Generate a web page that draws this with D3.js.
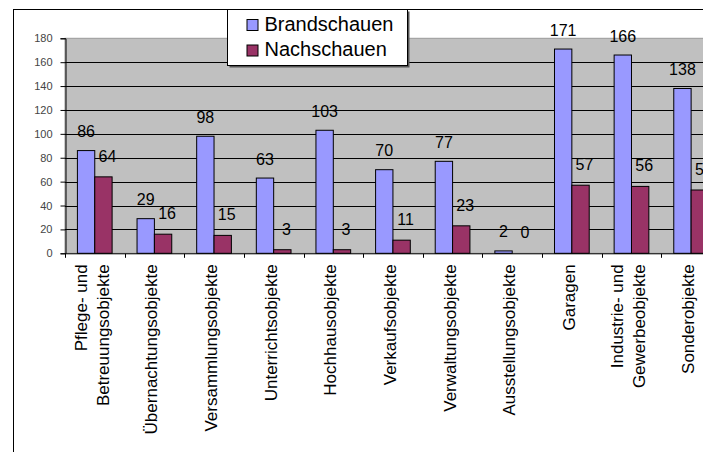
<!DOCTYPE html>
<html>
<head>
<meta charset="utf-8">
<script src="https://cdn.jsdelivr.net/npm/d3@7"></script>
<style>
  html, body { margin: 0; padding: 0; background: #fff; }
  svg { display: block; font-family: "Liberation Sans", Arial, sans-serif; }
</style>
</head>
<body>
<svg id="chart" width="703" height="452"></svg>
<script>
// Categories (line breaks marked with \n)
const categories = [
  "Pflege- und\nBetreuungsobjekte",
  "Übernachtungsobjekte",
  "Versammlungsobjekte",
  "Unterrichtsobjekte",
  "Hochhausobjekte",
  "Verkaufsobjekte",
  "Verwaltungsobjekte",
  "Ausstellungsobjekte",
  "Garagen",
  "Industrie- und\nGewerbeobjekte",
  "Sonderobjekte"
];
const seriesNames = ["Brandschauen", "Nachschauen"];
const brandschauen = [86, 29, 98, 63, 103, 70, 77, 2, 171, 166, 138];
const nachschauen  = [64, 16, 15, 3, 3, 11, 23, 0, 57, 56, 53];
const yTicks = [0, 20, 40, 60, 80, 100, 120, 140, 160, 180];

const colors = { Brandschauen: "#9999FF", Nachschauen: "#993366" };
const values = { Brandschauen: brandschauen, Nachschauen: nachschauen };

const svg = d3.select("#chart");

// Outer chart frame (extends beyond the visible window on right and bottom)
svg.append("rect")
  .attr("x", 13.5).attr("y", 9.5)
  .attr("width", 760).attr("height", 500)
  .attr("fill", "#fff").attr("stroke", "#000").attr("stroke-width", 1);

const plot = { left: 65, top: 38.3, right: 721, bottom: 253.3 };

const x0 = d3.scaleBand().domain(categories).range([plot.left, plot.right]).padding(0);
const bw = x0.bandwidth();
const x1 = d3.scaleBand().domain(seriesNames).range([bw * 0.208, bw * 0.79]).padding(0);
const y = d3.scaleLinear().domain([0, 180]).range([plot.bottom, plot.top]);

// Plot area background
svg.append("rect")
  .attr("x", plot.left).attr("y", plot.top)
  .attr("width", plot.right - plot.left).attr("height", plot.bottom - plot.top)
  .attr("fill", "#C0C0C0").attr("stroke", "#9a9a9a").attr("stroke-width", 1);

// Horizontal gridlines
svg.append("g")
  .selectAll("line")
  .data(yTicks.filter(d => d > 0 && d < 180))
  .join("line")
  .attr("x1", plot.left).attr("x2", plot.right)
  .attr("y1", d => Math.round(y(d)) + 0.5).attr("y2", d => Math.round(y(d)) + 0.5)
  .attr("stroke", "#000").attr("stroke-width", 1);

// Bars
const groups = svg.append("g")
  .selectAll("g")
  .data(categories)
  .join("g")
  .attr("transform", d => `translate(${x0(d)},0)`);

groups.selectAll("rect")
  .data((c, i) => seriesNames.map(s => ({ s, v: values[s][i] })))
  .join("rect")
  .attr("x", d => x1(d.s))
  .attr("y", d => y(d.v))
  .attr("width", x1.bandwidth())
  .attr("height", d => y(0) - y(d.v))
  .attr("fill", d => colors[d.s])
  .attr("stroke", "#000").attr("stroke-width", 1);

// Value labels
groups.selectAll("text")
  .data((c, i) => seriesNames.map(s => ({ s, v: values[s][i] })))
  .join("text")
  .attr("x", d => x1(d.s) + x1.bandwidth() / 2 + (d.s === "Nachschauen" ? 4 : 0))
  .attr("y", d => y(d.v) - (d.s === "Nachschauen" ? 15 : 13.5))
  .attr("text-anchor", "middle")
  .attr("font-size", "16px")
  .attr("fill", "#000")
  .text(d => d.v);

// Y axis
const yAxis = d3.axisLeft(y).tickValues(yTicks).tickSize(5).tickPadding(8);
const gy = svg.append("g")
  .attr("transform", `translate(${plot.left + 0.5},0)`)
  .call(yAxis);
gy.select(".domain").attr("stroke", "#000");
gy.selectAll(".tick line").attr("stroke", "#000");
gy.selectAll(".tick text")
  .attr("font-size", "11px")
  .attr("font-family", "Liberation Sans, Arial, sans-serif")
  .attr("fill", "#444");

// X axis with ticks at category boundaries
const gx = svg.append("g")
  .attr("transform", `translate(0,${plot.bottom + 0.5})`);
gx.append("line")
  .attr("x1", plot.left).attr("x2", plot.right)
  .attr("stroke", "#000");
gx.selectAll("line.tk")
  .data(categories)
  .join("line")
  .attr("class", "tk")
  .attr("x1", d => Math.round(x0(d)) + 0.5).attr("x2", d => Math.round(x0(d)) + 0.5)
  .attr("y1", 0).attr("y2", 4)
  .attr("stroke", "#000");

// Category labels, rotated to read bottom-to-top
const lineGap = 22;
categories.forEach(c => {
  const lines = c.split("\n");
  const cx = x0(c) + bw / 2;
  const t = svg.append("text")
    .attr("transform", `translate(${cx},${plot.bottom + 11}) rotate(-90)`)
    .attr("text-anchor", "end")
    .attr("font-size", "17px")
    .attr("fill", "#000");
  lines.forEach((ln, k) => {
    const off = (k - (lines.length - 1) / 2) * lineGap;
    t.append("tspan")
      .attr("x", 0)
      .attr("y", off)
      .attr("dy", "0.17em")
      .text(ln);
  });
});

// Legend
const lg = svg.append("g").attr("transform", "translate(227.5,9.5)");
lg.append("rect")
  .attr("x", 2).attr("y", 2).attr("width", 180).attr("height", 56)
  .attr("fill", "#555");
lg.append("rect")
  .attr("x", 0).attr("y", 0).attr("width", 180).attr("height", 56)
  .attr("fill", "#fff").attr("stroke", "#000").attr("stroke-width", 1);
seriesNames.forEach((s, i) => {
  lg.append("rect")
    .attr("x", 19.5).attr("y", 10 + i * 25.5)
    .attr("width", 11).attr("height", 11)
    .attr("fill", colors[s]).attr("stroke", "#000").attr("stroke-width", 1);
  lg.append("text")
    .attr("x", 37).attr("y", 21 + i * 25)
    .attr("font-size", "20px")
    .attr("fill", "#000")
    .text(s);
});
</script>
</body>
</html>
